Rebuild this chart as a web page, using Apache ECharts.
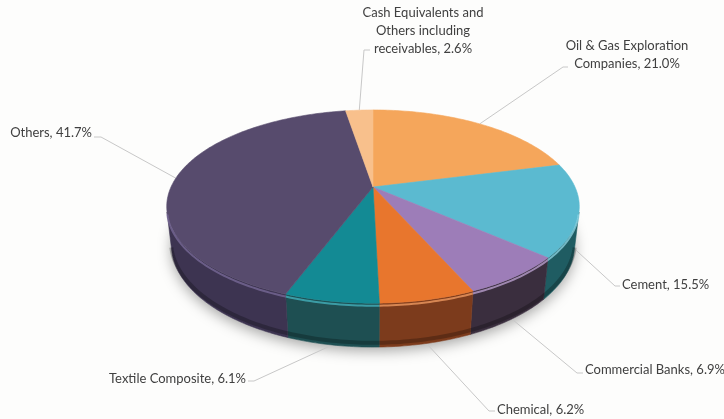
<!DOCTYPE html>
<html>
<head>
<meta charset="utf-8">
<script src="https://cdn.jsdelivr.net/npm/echarts@6/dist/echarts.min.js"></script>
<style>
  html, body { margin: 0; padding: 0; background: #fdfdfc; }
  #chart { width: 724px; height: 419px; }
</style>
</head>
<body>
<div id="chart"></div>
<script>
// Sector allocation (%), slices run clockwise from 12 o'clock
const sectors = [
  'Oil & Gas Exploration\nCompanies',
  'Cement',
  'Commercial Banks',
  'Chemical',
  'Textile Composite',
  'Others',
  'Cash Equivalents and\nOthers including\nreceivables'
];
const shares = [21.0, 15.5, 6.9, 6.2, 6.1, 41.7, 2.6];

// slice colours: top face and side wall
const topColors  = ['#F5A65B', '#5BBAD0', '#9D7DB8', '#E8762D', '#138A94', '#574B6D', '#F8C08C'];
const sideColors = ['#9a5e2c', '#1f5c62', '#3a2e3e', '#7c3b1c', '#1e4f52', '#3d3451', '#a8794f'];
const rimColors  = ['#f8c490', '#8fd6e6', '#c0a6d6', '#f6a066', '#46b6c2', '#7a6b9a', '#fbd6b0'];

// label placement: text anchor, alignment, leader elbow and leader end next to the text
const labelLayout = [
  { x: 627, y: 55,  align: 'center', elbow: [563, 67],  end: [568, 67] },
  { x: 622, y: 285, align: 'left',   elbow: [615, 286], end: [620, 286] },
  { x: 585, y: 370, align: 'left',   elbow: [577, 373], end: [583, 373] },
  { x: 497, y: 410, align: 'left',   elbow: [489, 411], end: [495, 411] },
  { x: 246, y: 379, align: 'right',  elbow: [254, 381], end: [248, 381] },
  { x: 92,  y: 133, align: 'right',  elbow: [101, 137], end: [94, 137] },
  { x: 423, y: 31,  align: 'center', elbow: [364, 50],  end: [370, 50] }
];

// simple perspective camera looking down at a unit-radius disc
const VIEW = { cx: 373, cy: 187, dist: 4.386, focal: 886, tilt: 27.3 * Math.PI / 180, depth: 0.215 };
const CA = Math.cos(VIEW.tilt), SA = Math.sin(VIEW.tilt);

function project(phi, r, y) {
  const x = r * Math.sin(phi), z = r * Math.cos(phi);
  const d = VIEW.dist + z * CA - y * SA;
  return [VIEW.cx + VIEW.focal * x / d, VIEW.cy - VIEW.focal * (y * CA + z * SA) / d];
}

function arc(a, b, y) {
  const pts = [];
  const n = Math.max(2, Math.ceil((b - a) / (Math.PI / 180)));
  for (let k = 0; k <= n; k++) pts.push(project(a + (b - a) * k / n, 1, y));
  return pts;
}

const total = shares.reduce((s, v) => s + v, 0);
const starts = [];
shares.reduce((acc, v) => { starts.push(acc); return acc + v; }, 0);

// side wall faces the camera only on the near part of the rim
const PHI_VIS = Math.acos(-1 / (VIEW.dist * CA));

function renderItem(params, api) {
  const i = params.dataIndex;
  const value = api.value(0);
  const a = starts[i] / total * Math.PI * 2;
  const b = a + value / total * Math.PI * 2;
  const H = -VIEW.depth;
  const children = [];

  if (i === 0) {
    // soft ground shadow under the disc
    children.push({
      type: 'polygon', z2: 1,
      shape: { points: arc(0, Math.PI * 2, H) },
      style: { fill: '#e9e9e9', shadowBlur: 14, shadowColor: 'rgba(0,0,0,0.35)', shadowOffsetY: 4 }
    });
  }

  // top face
  const top = [project(0, 0, 0)].concat(arc(a, b, 0));
  children.push({
    type: 'polygon', z2: 20,
    shape: { points: top },
    style: { fill: topColors[i], stroke: topColors[i], lineWidth: 0.6 }
  });

  // visible part of the side wall
  const sa = Math.max(a, PHI_VIS), sb = Math.min(b, Math.PI * 2 - PHI_VIS);
  if (sa < sb) {
    const upper = arc(sa, sb, 0);
    const lower = arc(sa, sb, H).reverse();
    children.push({
      type: 'polygon', z2: 10,
      shape: { points: upper.concat(lower) },
      style: { fill: sideColors[i], stroke: sideColors[i], lineWidth: 0.6 }
    });
    // darker band along the bottom edge
    children.push({
      type: 'polyline', z2: 11,
      shape: { points: arc(sa, sb, H * 0.9) },
      style: { stroke: 'rgba(0,0,0,0.25)', lineWidth: 4, fill: null }
    });
    // bevel highlight along the front edge of the top
    children.push({
      type: 'polyline', z2: 25,
      shape: { points: arc(sa, sb, -0.012) },
      style: { stroke: rimColors[i], lineWidth: 2, opacity: 0.75, fill: null }
    });
  }

  // leader line, tucked under the disc
  const mid = (a + b) / 2;
  const anchor = Math.cos(mid) < 0 ? project(mid, 1, H) : project(mid, 1, 0);
  const lay = labelLayout[i];
  children.push({
    type: 'polyline', z2: 5,
    shape: { points: [anchor, lay.elbow, lay.end] },
    style: { stroke: '#c8c8c8', lineWidth: 1, fill: null }
  });

  // label text
  children.push({
    type: 'text', z2: 30,
    style: {
      text: sectors[i] + ', ' + value.toFixed(1) + '%',
      x: lay.x, y: lay.y,
      align: lay.align, verticalAlign: 'middle',
      textAlign: lay.align, textVerticalAlign: 'middle',
      fill: '#404040',
      font: '13px Lato',
      lineHeight: 18
    }
  });

  return { type: 'group', children: children };
}

const chart = echarts.init(document.getElementById('chart'), null, { renderer: 'canvas' });
chart.setOption({
  backgroundColor: '#fdfdfc',
  animation: false,
  series: [{
    type: 'custom',
    coordinateSystem: 'none',
    silent: true,
    renderItem: renderItem,
    data: shares.map(v => [v])
  }]
});
</script>
</body>
</html>
